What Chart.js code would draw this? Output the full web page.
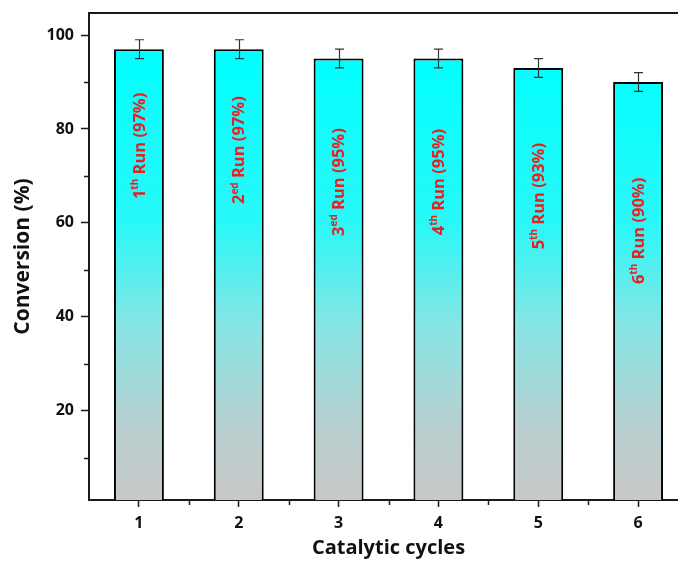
<!DOCTYPE html>
<html>
<head>
<meta charset="utf-8">
<script src="https://cdn.jsdelivr.net/npm/chart.js@4.4.0/dist/chart.umd.min.js"></script>
<style>
    html, body { margin: 0; padding: 0; background: #fff; overflow: hidden; }
    #wrap { width: 700px; height: 564px; }
</style>
</head>
<body>
<div id="wrap"><canvas id="chart" width="700" height="564"></canvas></div>
<script>
// Datos
const cycles = ['1', '2', '3', '4', '5', '6'];
const conversion = [97, 97, 95, 95, 93, 90];
const errors = [2, 2, 2, 2, 2, 2];
const runOrdinals = ['1', '2', '3', '4', '5', '6'];
const runSuffixes = ['th', 'ed', 'ed', 'th', 'th', 'th'];
const yTicks = [20, 40, 60, 80, 100];
const yMinorTicks = [10, 30, 50, 70, 90];

const FONT = "'Open Sans', 'Noto Sans', sans-serif";
const AXIS_COLOR = '#1a1a1a';

/**
 * Relleno degradado cian -> gris de las barras
 */
function barFill(context) {
    const chart = context.chart;
    const area = chart.chartArea;
    if (!area) return '#00ffff';
    const top = chart.scales.y.getPixelForValue(Math.max(...conversion));
    const g = chart.ctx.createLinearGradient(0, top, 0, area.bottom);
    g.addColorStop(0, 'rgb(0,255,255)');
    g.addColorStop(0.38, 'rgb(40,248,248)');
    g.addColorStop(0.62, 'rgb(138,228,228)');
    g.addColorStop(0.84, 'rgb(184,207,207)');
    g.addColorStop(1, 'rgb(200,200,200)');
    return g;
}

// Marco superior y ticks menores
const framePlugin = {
    id: 'frame',
    afterDraw(chart) {
        const { ctx, chartArea, scales } = chart;
        ctx.save();
        ctx.strokeStyle = AXIS_COLOR;
        ctx.lineWidth = 2;
        ctx.beginPath();
        ctx.moveTo(chartArea.left - 1, chartArea.top);
        ctx.lineTo(chartArea.right, chartArea.top);
        ctx.stroke();

        ctx.lineWidth = 1.5;
        yMinorTicks.forEach(v => {
            const y = Math.round(scales.y.getPixelForValue(v)) + 0.5;
            ctx.beginPath();
            ctx.moveTo(chartArea.left, y);
            ctx.lineTo(chartArea.left - 5, y);
            ctx.stroke();
        });
        for (let i = 0; i < cycles.length; i++) {
            const x = Math.round(scales.x.getPixelForValue(i + 0.5)) + 0.5;
            ctx.beginPath();
            ctx.moveTo(x, chartArea.bottom);
            ctx.lineTo(x, chartArea.bottom + 5);
            ctx.stroke();
        }
        ctx.restore();
    }
};

// Barras de error
const errorBarPlugin = {
    id: 'errorBars',
    afterDatasetsDraw(chart) {
        const { ctx, scales } = chart;
        const meta = chart.getDatasetMeta(0);
        ctx.save();
        ctx.strokeStyle = '#333';
        ctx.lineWidth = 1.2;
        meta.data.forEach((bar, i) => {
            const x = Math.round(bar.x) + 0.5;
            const yHi = scales.y.getPixelForValue(conversion[i] + errors[i]);
            const yLo = scales.y.getPixelForValue(conversion[i] - errors[i]);
            ctx.beginPath();
            ctx.moveTo(x, yHi);
            ctx.lineTo(x, yLo);
            ctx.moveTo(x - 4.5, yHi);
            ctx.lineTo(x + 4.5, yHi);
            ctx.moveTo(x - 4.5, yLo);
            ctx.lineTo(x + 4.5, yLo);
            ctx.stroke();
        });
        ctx.restore();
    }
};

// Etiquetas rojas verticales dentro de las barras
const runLabelPlugin = {
    id: 'runLabels',
    afterDatasetsDraw(chart, args, opts) {
        const { ctx, scales } = chart;
        const meta = chart.getDatasetMeta(0);
        const mainFont = `bold ${opts.size}px ${FONT}`;
        const supFont = `bold ${Math.round(opts.size * 0.62)}px ${FONT}`;
        ctx.save();
        ctx.fillStyle = opts.color;
        ctx.textBaseline = 'middle';
        ctx.textAlign = 'left';
        meta.data.forEach((bar, i) => {
            const first = runOrdinals[i];
            const sup = runSuffixes[i];
            const rest = ` Run (${conversion[i]}%)`;
            ctx.font = mainFont;
            const w1 = ctx.measureText(first).width;
            const w3 = ctx.measureText(rest).width;
            ctx.font = supFont;
            const w2 = ctx.measureText(sup).width;
            const total = w1 + w2 + w3;
            const cy = scales.y.getPixelForValue(opts.centers[i]);
            ctx.save();
            ctx.translate(bar.x + 1, cy);
            ctx.rotate(-Math.PI / 2);
            let x = -total / 2;
            ctx.font = mainFont;
            ctx.fillText(first, x, 0);
            x += w1;
            ctx.font = supFont;
            ctx.fillText(sup, x, -opts.size * 0.3);
            x += w2;
            ctx.font = mainFont;
            ctx.fillText(rest, x, 0);
            ctx.restore();
        });
        ctx.restore();
    }
};

const chart = new Chart(document.getElementById('chart'), {
    type: 'bar',
    data: {
        labels: cycles,
        datasets: [{
            label: 'Conversion (%)',
            data: conversion,
            backgroundColor: barFill,
            borderColor: '#000',
            borderWidth: 2,
            borderSkipped: false,
            categoryPercentage: 1,
            barPercentage: 0.5
        }]
    },
    options: {
        responsive: false,
        animation: false,
        layout: { padding: { top: 13, right: 12, left: 0, bottom: 0 } },
        plugins: {
            legend: { display: false },
            tooltip: { enabled: false },
            runLabels: {
                color: '#e8201f',
                size: 16.5,
                centers: [76.4, 75.5, 68.7, 68.7, 65.7, 58.3]
            }
        },
        scales: {
            x: {
                offset: true,
                afterFit: (s) => { s.height = 64; s.paddingLeft = 0; s.paddingRight = 0; },
                grid: {
                    offset: false,
                    drawOnChartArea: false,
                    drawTicks: true,
                    tickLength: 7,
                    tickColor: AXIS_COLOR,
                    tickWidth: 1.5
                },
                border: { display: true, color: AXIS_COLOR, width: 2 },
                ticks: {
                    color: '#111',
                    padding: 7,
                    font: { family: FONT, size: 16, weight: 'bold' }
                },
                title: {
                    display: true,
                    text: 'Catalytic cycles',
                    color: '#111',
                    padding: { top: 0, bottom: 4 },
                    font: { family: FONT, size: 20, weight: 'bold' }
                }
            },
            y: {
                min: 1,
                max: 104.7,
                afterFit: (s) => { s.width = 89; s.paddingTop = 0; s.paddingBottom = 0; },
                afterBuildTicks: (s) => { s.ticks = yTicks.map(v => ({ value: v })); },
                grid: {
                    drawOnChartArea: false,
                    drawTicks: true,
                    tickLength: 8,
                    tickColor: AXIS_COLOR,
                    tickWidth: 1.5
                },
                border: { display: true, color: AXIS_COLOR, width: 2 },
                ticks: {
                    color: '#111',
                    padding: 7,
                    font: { family: FONT, size: 16, weight: 'bold' }
                },
                title: {
                    display: true,
                    text: 'Conversion (%)',
                    color: '#111',
                    padding: { top: 10, bottom: 0 },
                    font: { family: FONT, size: 21, weight: 'bold' }
                }
            }
        }
    },
    plugins: [framePlugin, errorBarPlugin, runLabelPlugin]
});
</script>
</body>
</html>
